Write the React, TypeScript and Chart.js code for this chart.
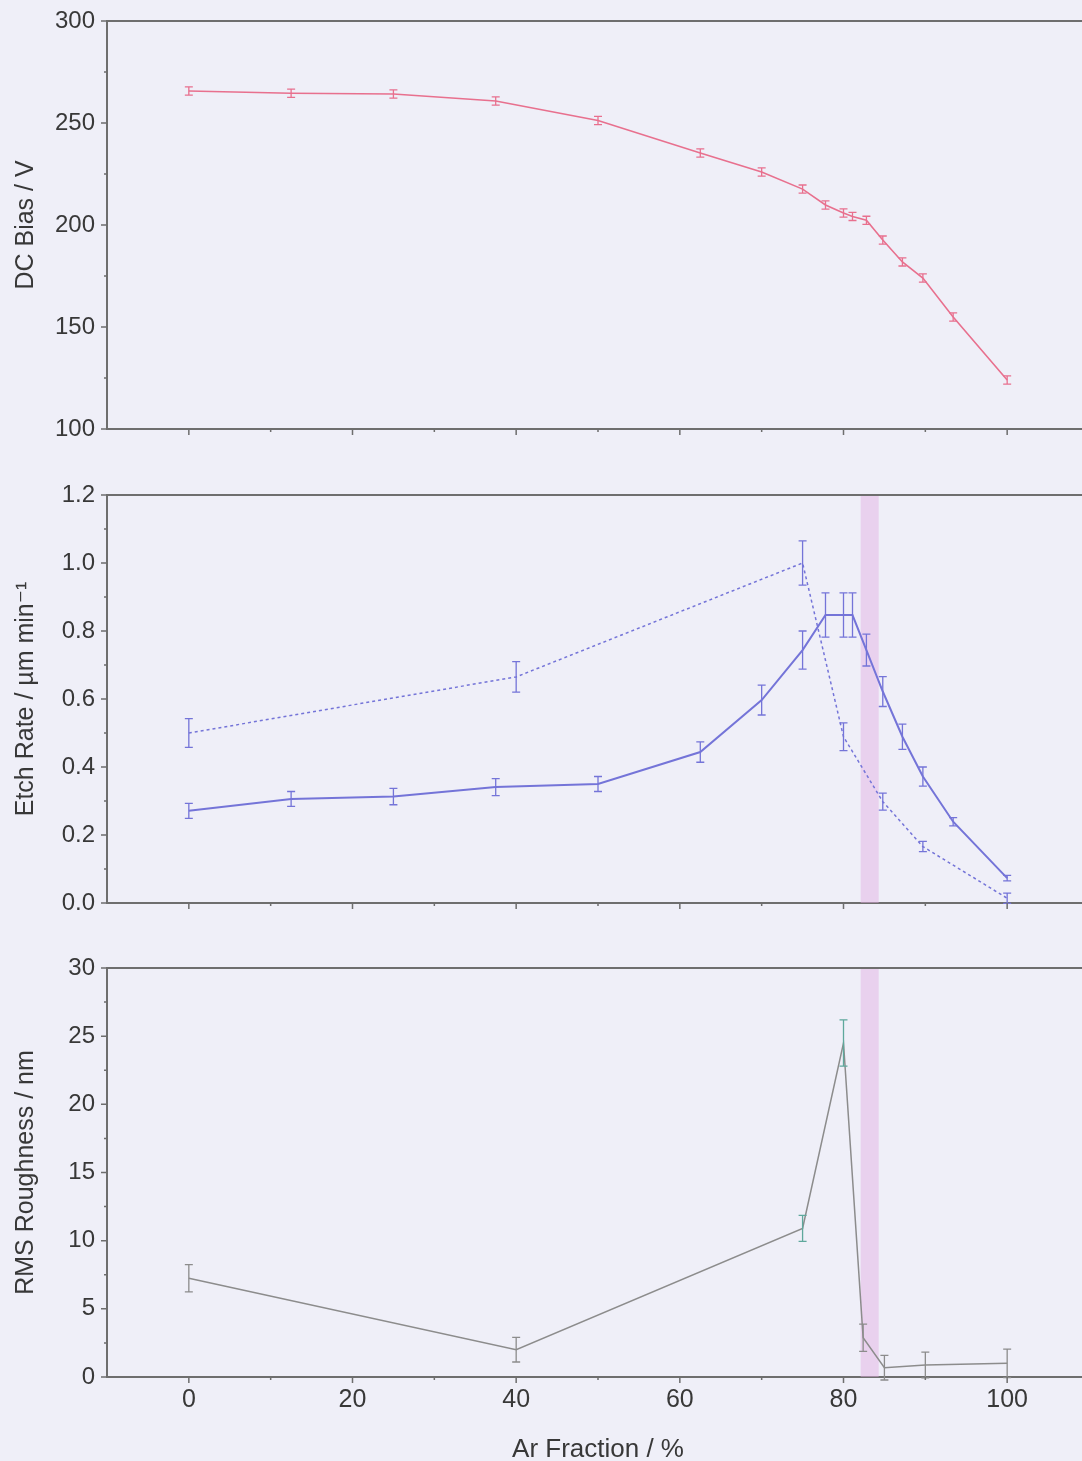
import React, { useEffect, useRef } from "react";
import { Chart, registerables } from "chart.js";

Chart.register(...registerables);

// ---------- data ----------
const arFraction = [0, 12.5, 25, 37.5, 50, 62.5, 70, 75, 77.8, 80, 81.1, 82.8, 84.8, 87.2, 89.7, 93.4, 100];
const dcBias = [265.7, 264.6, 264.2, 260.8, 251.2, 235.3, 226.0, 217.6, 209.8, 205.9, 204.2, 202.3, 192.6, 181.9, 174.0, 154.9, 124.0];
const dcBiasErr = [2, 2, 2, 2, 2, 2, 2, 2, 2, 2, 2, 2, 2, 2, 2, 2, 2];

const etchRate = [0.271, 0.306, 0.313, 0.341, 0.35, 0.444, 0.597, 0.744, 0.847, 0.847, 0.847, 0.744, 0.622, 0.489, 0.372, 0.239, 0.073];
const etchRateErr = [0.022, 0.022, 0.024, 0.025, 0.022, 0.03, 0.044, 0.056, 0.065, 0.065, 0.065, 0.047, 0.044, 0.037, 0.028, 0.012, 0.008];

const etchFraction2 = [0, 40, 75, 80, 84.8, 89.7, 100];
const etchRate2 = [0.5, 0.665, 1.0, 0.489, 0.298, 0.166, 0.014];
const etchRate2Err = [0.042, 0.045, 0.065, 0.041, 0.025, 0.015, 0.015];

const roughFraction = [0, 40, 75, 80, 82.4, 85, 90, 100];
const roughness = [7.24, 2.0, 10.9, 24.5, 2.88, 0.68, 0.88, 1.0];
const roughnessErr = [1.0, 0.9, 0.95, 1.7, 1.0, 0.9, 0.95, 1.05];

const highlightBand = [82.1, 84.3];

const xMajorTicks = [0, 20, 40, 60, 80, 100];
const xMinorTicks = [10, 30, 50, 70, 90, 110];

// ---------- styles ----------
const AXIS = "#6e6e6e";
const TEXT = "#383838";
const FONT = "'Liberation Sans', Arial, 'DejaVu Sans', sans-serif";
const PINK = "#e8708e";
const BLUE = "#7474d8";
const GRAY = "#8c8c8c";
const TEAL = "#5ea89c";
const BG = "#efeff8";

const CANVAS_W = 1100;

type Panel = {
  top: number;
  height: number;
  padTop: number;
  xAxisHeight: number;
  yMin: number;
  yMax: number;
  yMajor: number;
  yMinor: number;
  decimals: number;
  yTitle: string;
  showXLabels: boolean;
  band: number[] | null;
  datasets: any[];
};

const pts = (xs: number[], ys: number[]) => xs.map((x, i) => ({ x, y: ys[i] }));

const panels: Panel[] = [
  {
    top: 0,
    height: 465,
    padTop: 21,
    xAxisHeight: 36,
    yMin: 100,
    yMax: 300,
    yMajor: 50,
    yMinor: 25,
    decimals: 0,
    yTitle: "DC Bias / V",
    showXLabels: false,
    band: null,
    datasets: [
      {
        data: pts(arFraction, dcBias),
        borderColor: PINK,
        borderWidth: 1.6,
        errorBars: dcBiasErr,
        errorColor: PINK,
      },
    ],
  },
  {
    top: 465,
    height: 470,
    padTop: 30,
    xAxisHeight: 32,
    yMin: 0,
    yMax: 1.2,
    yMajor: 0.2,
    yMinor: 0.1,
    decimals: 1,
    yTitle: "Etch Rate / \u00B5m min\u207B\u00B9",
    showXLabels: false,
    band: highlightBand,
    datasets: [
      {
        data: pts(arFraction, etchRate),
        borderColor: BLUE,
        borderWidth: 2,
        errorBars: etchRateErr,
        errorColor: BLUE,
      },
      {
        data: pts(etchFraction2, etchRate2),
        borderColor: BLUE,
        borderWidth: 1.5,
        borderDash: [3, 3],
        errorBars: etchRate2Err,
        errorColor: BLUE,
      },
    ],
  },
  {
    top: 935,
    height: 526,
    padTop: 33,
    xAxisHeight: 84,
    yMin: 0,
    yMax: 30,
    yMajor: 5,
    yMinor: 2.5,
    decimals: 0,
    yTitle: "RMS Roughness / nm",
    showXLabels: true,
    band: highlightBand,
    datasets: [
      {
        data: pts(roughFraction, roughness),
        borderColor: GRAY,
        borderWidth: 1.5,
        errorBars: roughnessErr,
        errorColor: [GRAY, GRAY, TEAL, TEAL, GRAY, GRAY, GRAY, GRAY],
      },
    ],
  },
];

function makeDeco(p: Panel) {
  return {
    id: "panelDeco",
    beforeDatasetsDraw(chart: any) {
      const { ctx, chartArea: a, scales } = chart;
      if (p.band) {
        const x0 = scales.x.getPixelForValue(p.band[0]);
        const x1 = scales.x.getPixelForValue(p.band[1]);
        ctx.save();
        ctx.fillStyle = "rgba(226,172,226,0.45)";
        ctx.fillRect(x0, a.top, x1 - x0, a.bottom - a.top);
        ctx.restore();
      }
    },
    afterDatasetsDraw(chart: any) {
      const { ctx, scales } = chart;
      const { x, y } = scales;
      chart.data.datasets.forEach((ds: any) => {
        const errs = ds.errorBars as number[] | undefined;
        if (!errs) return;
        ctx.save();
        ctx.lineWidth = 1.3;
        ds.data.forEach((pt: any, j: number) => {
          const col = Array.isArray(ds.errorColor) ? ds.errorColor[j] : ds.errorColor;
          ctx.strokeStyle = col;
          const px = x.getPixelForValue(pt.x);
          const t = y.getPixelForValue(pt.y + errs[j]);
          const b = y.getPixelForValue(pt.y - errs[j]);
          ctx.beginPath();
          ctx.moveTo(px, t);
          ctx.lineTo(px, b);
          ctx.moveTo(px - 4, t);
          ctx.lineTo(px + 4, t);
          ctx.moveTo(px - 4, b);
          ctx.lineTo(px + 4, b);
          ctx.stroke();
        });
        ctx.restore();
      });
    },
    afterDraw(chart: any) {
      const { ctx, chartArea: a, scales } = chart;
      const { x, y } = scales;
      ctx.save();
      ctx.strokeStyle = AXIS;
      ctx.lineWidth = 2;
      // frame: top and right
      ctx.beginPath();
      ctx.moveTo(a.left, a.top);
      ctx.lineTo(a.right, a.top);
      ctx.lineTo(a.right, a.bottom);
      ctx.stroke();
      // x ticks
      ctx.lineWidth = 1.5;
      ctx.beginPath();
      xMajorTicks.forEach((v) => {
        const px = x.getPixelForValue(v);
        ctx.moveTo(px, a.bottom);
        ctx.lineTo(px, a.bottom + 6);
      });
      xMinorTicks.forEach((v) => {
        const px = x.getPixelForValue(v);
        ctx.moveTo(px, a.bottom);
        ctx.lineTo(px, a.bottom + 3);
      });
      // y ticks
      const n = Math.round((p.yMax - p.yMin) / p.yMinor);
      for (let i = 0; i <= n; i++) {
        const v = p.yMin + i * p.yMinor;
        const py = y.getPixelForValue(v);
        const major = i % 2 === 0;
        ctx.moveTo(a.left - (major ? 6 : 3), py);
        ctx.lineTo(a.left, py);
      }
      ctx.stroke();
      ctx.restore();
    },
  };
}

function PanelChart({ p }: { p: Panel }) {
  const ref = useRef<HTMLCanvasElement | null>(null);
  useEffect(() => {
    if (!ref.current) return;
    const chart = new Chart(ref.current, {
      type: "line",
      data: {
        datasets: p.datasets.map((d) => ({
          ...d,
          pointRadius: 0,
          pointHoverRadius: 0,
          tension: 0,
          fill: false,
        })),
      },
      options: {
        responsive: false,
        animation: false,
        devicePixelRatio: 1,
        layout: { padding: { top: p.padTop, right: 11, left: 0, bottom: 0 } },
        plugins: {
          legend: { display: false },
          tooltip: { enabled: false },
        },
        scales: {
          x: {
            type: "linear",
            min: -10,
            max: 110,
            afterFit: (s: any) => {
              s.height = p.xAxisHeight;
            },
            grid: {
              display: true,
              drawOnChartArea: false,
              drawTicks: true,
              tickLength: 6,
              color: "rgba(0,0,0,0)",
            },
            border: { display: true, color: AXIS, width: 2 },
            ticks: {
              stepSize: 10,
              autoSkip: false,
              maxRotation: 0,
              minRotation: 0,
              padding: 2,
              color: TEXT,
              font: { family: FONT, size: 25 },
              callback: (v: any) =>
                p.showXLabels && v % 20 === 0 && v >= 0 && v <= 100 ? String(v) : "",
            },
            title: p.showXLabels
              ? {
                  display: true,
                  text: "Ar Fraction / %",
                  color: TEXT,
                  font: { family: FONT, size: 26, lineHeight: 0.85 },
                  padding: 0,
                }
              : { display: false },
          },
          y: {
            type: "linear",
            min: p.yMin,
            max: p.yMax,
            afterFit: (s: any) => {
              s.width = 107;
            },
            grid: {
              display: true,
              drawOnChartArea: false,
              drawTicks: true,
              tickLength: 6,
              color: "rgba(0,0,0,0)",
            },
            border: { display: true, color: AXIS, width: 2 },
            ticks: {
              stepSize: p.yMajor,
              autoSkip: false,
              padding: 6,
              color: TEXT,
              font: { family: FONT, size: 24 },
              callback: (v: any) => Number(v).toFixed(p.decimals),
            },
            title: {
              display: true,
              text: p.yTitle,
              color: TEXT,
              font: { family: FONT, size: 25 },
              padding: { top: 11, bottom: 0 },
            },
          },
        },
      },
      plugins: [makeDeco(p)],
    } as any);
    return () => chart.destroy();
  }, [p]);
  return (
    <canvas
      ref={ref}
      width={CANVAS_W}
      height={p.height}
      style={{ position: "absolute", left: 0, top: p.top, width: CANVAS_W, height: p.height }}
    />
  );
}

export default function App() {
  return (
    <div
      style={{
        position: "absolute",
        left: 0,
        top: 0,
        width: 1082,
        height: 1461,
        overflow: "hidden",
        background: BG,
      }}
    >
      {panels.map((p, i) => (
        <PanelChart key={i} p={p} />
      ))}
    </div>
  );
}
